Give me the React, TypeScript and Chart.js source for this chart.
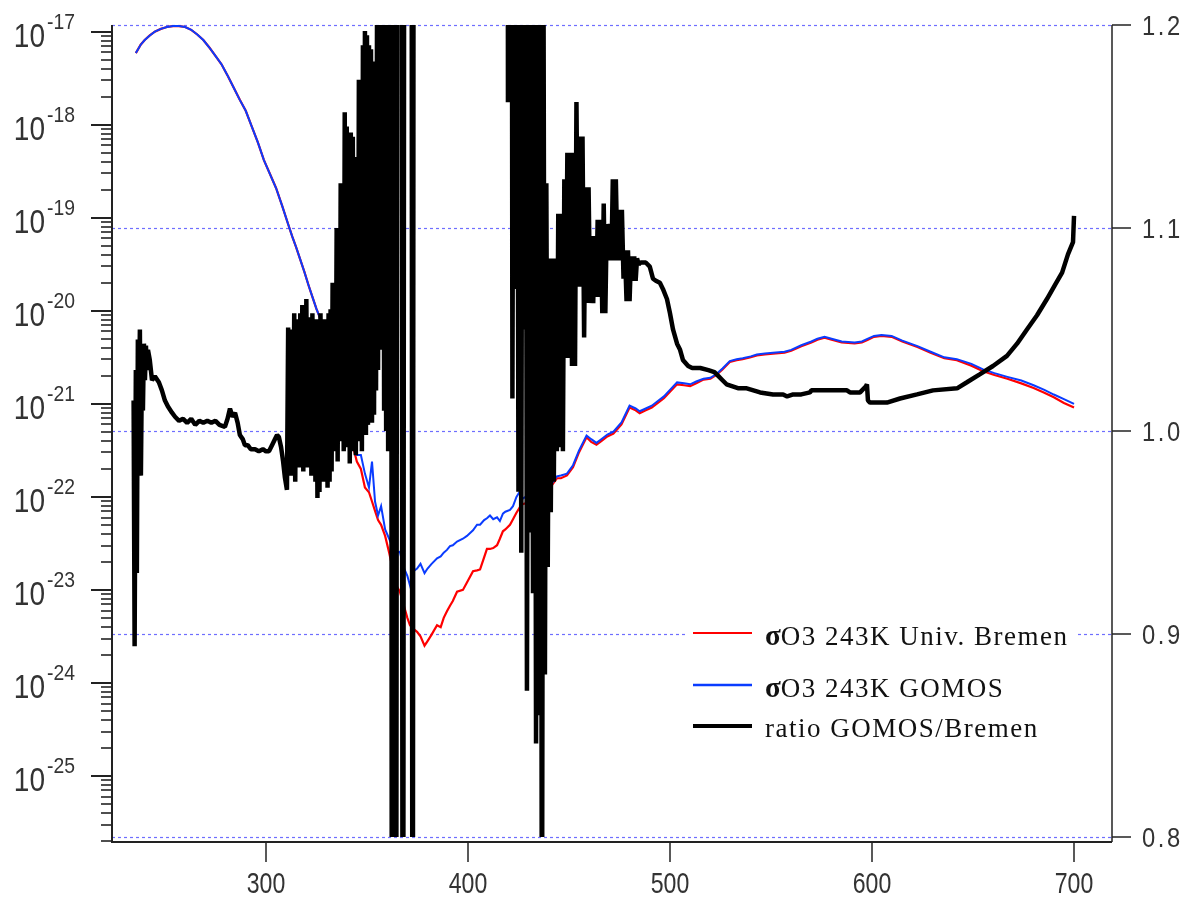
import { useEffect, useRef } from "react";
import { Chart, registerables } from "chart.js";

Chart.register(...registerables);

// Wavelength grid (nm) of the two ozone absorption cross-sections
const sigmaNm = [
  235.6, 238, 240, 242.5, 245, 248, 251, 254, 257, 260,
  263, 266, 269, 272, 275, 278, 281, 284, 287, 290,
  293, 296, 299, 302, 305, 308, 311, 313, 315, 317,
  319, 321, 323, 325, 327, 329, 331, 333, 335, 337,
  339, 341, 343, 345, 347, 349, 351, 352.5, 354, 355.5,
  357, 359, 361, 363, 364.5, 366.3, 368, 370, 371.3, 373,
  374.8, 376.5, 378.5, 380, 382, 384.7, 386.5, 388, 389.6, 391.1,
  392.5, 394.6, 397.5, 399.5, 402.5, 404.5, 406, 408, 409.4, 410.9,
  412.5, 414.4, 415.8, 417.3, 418.5, 420.8, 422.3, 424, 425.7, 427,
  428.5, 430, 432, 435, 438, 441, 444, 446, 449, 452,
  455, 458.7, 461, 463.6, 466, 469, 472, 476, 480, 483,
  485, 488, 491, 494, 497, 500, 503.5, 507, 510, 513,
  516.6, 520, 523, 526, 529.6, 533, 536, 540, 543, 547,
  551, 556.7, 560, 565, 570, 573, 576.5, 580, 585, 591.4,
  595, 598, 601, 604.7, 609.7, 615, 622.5, 629, 635.8, 642,
  649.2, 655, 660.6, 667, 673.9, 680, 685.3, 690, 695, 700,
];

// log10 of the cross-section (cm^2), Univ. Bremen 243 K
const bremenLogSigma = [
  -17.23, -17.14, -17.09, -17.04, -17.0, -16.97, -16.95, -16.94, -16.94, -16.95,
  -16.98, -17.03, -17.09, -17.17, -17.26, -17.35, -17.47, -17.6, -17.73, -17.85,
  -18.02, -18.19, -18.38, -18.53, -18.68, -18.87, -19.07, -19.2, -19.32, -19.45,
  -19.58, -19.72, -19.85, -19.98, -20.09, -20.2, -20.35, -20.5, -20.7, -20.9,
  -21.05, -21.22, -21.45, -21.62, -21.7, -21.9, -21.95, -22.05, -22.15, -22.25,
  -22.3, -22.42, -22.6, -22.8, -22.95, -23.02, -23.15, -23.3, -23.38, -23.42,
  -23.45, -23.5, -23.6, -23.55, -23.48, -23.38, -23.4, -23.3, -23.23, -23.17,
  -23.12, -23.02, -23.0, -22.92, -22.8, -22.79, -22.78, -22.65, -22.56, -22.56,
  -22.55, -22.52, -22.45, -22.37, -22.35, -22.3, -22.24, -22.17, -22.11, -22.08,
  -22.07, -22.04, -22.02, -21.99, -21.94, -21.89, -21.8, -21.8, -21.77, -21.68,
  -21.52, -21.36, -21.41, -21.44, -21.4, -21.35, -21.32, -21.22, -21.04, -21.07,
  -21.1, -21.07, -21.04, -20.99, -20.94, -20.87, -20.79, -20.8, -20.81, -20.78,
  -20.74, -20.73, -20.69, -20.63, -20.55, -20.53, -20.52, -20.5, -20.48, -20.47,
  -20.46, -20.45, -20.43, -20.38, -20.34, -20.31, -20.29, -20.31, -20.34, -20.35,
  -20.34, -20.31, -20.28, -20.27, -20.28, -20.33, -20.39, -20.45, -20.51, -20.53,
  -20.59, -20.65, -20.69, -20.73, -20.78, -20.83, -20.88, -20.93, -20.99, -21.04,
];

// log10 of the cross-section (cm^2), GOMOS 243 K
const gomosLogSigma = [
  -17.23, -17.14, -17.09, -17.04, -17.0, -16.97, -16.95, -16.94, -16.94, -16.95,
  -16.98, -17.03, -17.09, -17.17, -17.26, -17.35, -17.47, -17.6, -17.73, -17.85,
  -18.02, -18.19, -18.38, -18.53, -18.68, -18.87, -19.07, -19.2, -19.32, -19.45,
  -19.58, -19.72, -19.85, -19.98, -20.09, -20.2, -20.25, -20.45, -20.55, -20.75,
  -21.0, -21.1, -21.3, -21.55, -21.55, -21.75, -21.9, -21.62, -22.05, -22.2,
  -22.1, -22.35, -22.45, -22.55, -22.6, -22.59, -22.75, -22.85, -22.95, -22.8,
  -22.77, -22.72, -22.82, -22.77, -22.72, -22.66, -22.64, -22.6, -22.57, -22.53,
  -22.52, -22.48, -22.45, -22.42, -22.36, -22.3, -22.3, -22.25, -22.23, -22.2,
  -22.24, -22.22, -22.26, -22.18, -22.16, -22.14, -22.1, -22.0, -21.94, -22.02,
  -22.0, -22.02, -22.0, -21.97, -21.92, -21.87, -21.78, -21.77, -21.75, -21.66,
  -21.5, -21.34, -21.38, -21.42, -21.38, -21.33, -21.3, -21.2, -21.02, -21.05,
  -21.08, -21.05, -21.02, -20.97, -20.92, -20.85, -20.77, -20.78, -20.79, -20.76,
  -20.73, -20.72, -20.68, -20.62, -20.54, -20.52, -20.51, -20.49, -20.47, -20.46,
  -20.45, -20.44, -20.42, -20.37, -20.33, -20.3, -20.28, -20.3, -20.33, -20.34,
  -20.33, -20.3, -20.27, -20.26, -20.27, -20.32, -20.38, -20.44, -20.5, -20.52,
  -20.57, -20.63, -20.67, -20.71, -20.75, -20.8, -20.85, -20.9, -20.95, -21.0,
];

// Ratio GOMOS / Bremen (right axis)
const ratioNm = [
  234.5, 235.0, 235.6, 236.1, 236.6, 237.1, 237.6, 238.1, 238.6, 239.1,
  239.6, 240.1, 240.6, 241.1, 241.6, 242.5, 243.6, 245, 247, 248.5,
  250, 251.5, 253.5, 255, 257, 259, 261, 263, 265, 267,
  269, 271, 273, 275, 277, 279.7, 281, 282.2, 283.5, 284.7,
  286, 287.1, 288.5, 289.6, 291, 292.5, 294.6, 296.5, 298.5, 300,
  301.5, 303, 304.5, 305.5, 306.4, 307.5, 308.5, 309.4, 310.4,
  311.0, 311.5, 312.0, 312.5, 313.0, 313.5, 314.0, 314.5, 315.0, 315.5,
  316.0, 316.5, 317.0, 317.5, 318.0, 318.5, 319.0, 319.5, 320.0, 320.5,
  321.0, 321.5, 322.0, 322.5, 323.0, 323.5, 324.0, 324.5, 325.0, 325.5,
  326.0, 326.5, 327.0, 327.5, 328.0, 328.5, 329.0, 329.5, 330.0, 330.5,
  331.0, 331.5, 332.0, 332.5, 333.0, 333.5, 334.0, 334.5, 335.0, 335.5,
  336.0, 336.5, 337.0, 337.5, 338.0, 338.5, 339.0, 339.5, 340.0, 340.5,
  341.0, 341.5, 342.0, 342.5, 343.0, 343.5, 344.0, 344.5, 345.0, 345.5,
  346.0, 346.5, 347.0, 347.5, 348.0, 348.5, 349.0, 349.5, 350.0, 350.5,
  351.0, 351.5, 352.0, 352.5, 353.0, 353.5, 354.0, 354.5, 355.0, 355.5,
  356.0, 356.5, 357.0, 357.5, 358.0, 358.5, 359.0, 359.5, 360.0, 360.5,
  361.0, 361.5, 362.0, 362.4, 363.3, 364.3, 365.2, 367.0, 367.8, 368.6,
  372.0, 372.6, 373.2, 380, 395, 410, 419.0,
  419.8, 420.6, 421.5, 422.0, 422.8, 423.5, 424.3, 425.0, 425.7, 426.4,
  427.2, 427.9, 428.6, 429.2, 430.0, 430.7, 431.4, 432.2, 433.0, 433.7,
  434.5, 435.2, 436.0, 436.6, 437.4, 438.1, 438.8, 439.5, 440.3, 441.0,
  441.8, 442.5, 443.2, 444.0, 444.7, 445.5, 446.2, 447.0, 447.7, 448.4,
  449.2, 450.0, 450.7, 451.5, 452.2, 453.0, 453.7, 454.5, 455.2, 456.0,
  456.7, 457.5, 458.2, 459.0, 459.7, 460.5, 461.2, 462.0, 462.7, 463.5,
  464.2, 465.0, 465.7, 466.5, 467.2, 468.0, 468.7, 469.5, 470.2, 471.0,
  471.7, 472.5, 473.2, 474.0, 474.7, 475.5, 476.2, 477.0, 477.7, 478.5,
  479.2, 480.0, 480.7, 481.5, 482.3, 483.0, 483.7, 484.5, 485.5, 488,
  490, 491.6, 493, 495, 496.5, 498.5, 500, 501.5, 503.5, 505,
  506.4, 509, 511, 515, 519, 522, 524, 526, 528, 531,
  534, 538, 544.6, 551, 556, 558, 561, 565, 569.3, 570,
  580, 587.6, 589.1, 594.1, 597, 597.5, 598, 599, 600.5, 607.4,
  613.9, 622.3, 630.2, 642.1, 647, 653.5, 659.9, 666.8, 671.8, 676.7,
  681.7, 686.6, 690.6, 694.1, 697, 699.5, 700,
];

const ratioValue = [
  1.015, 0.894, 1.03, 0.93, 1.045, 1.01, 1.05, 0.978, 1.03, 1.01,
  1.043, 1.025, 1.042, 1.03, 1.04, 1.035, 1.025, 1.027, 1.024, 1.02,
  1.015, 1.012, 1.009, 1.007, 1.005, 1.006, 1.004, 1.006, 1.003, 1.005,
  1.004, 1.005, 1.004, 1.005, 1.003, 1.002, 1.006, 1.011, 1.007, 1.009,
  1.004, 0.998, 0.996, 0.993, 0.993, 0.991, 0.991, 0.99, 0.991, 0.99,
  0.99, 0.993, 0.996, 0.998, 0.997, 0.992, 0.985, 0.977, 0.971,
  1.051, 0.99, 1.045, 0.978, 1.05, 0.985, 1.058, 0.975, 1.04, 0.988,
  1.055, 0.982, 1.058, 0.99, 1.062, 0.98, 1.05, 0.985, 1.065, 0.982,
  1.056, 0.99, 1.052, 0.978, 1.058, 0.985, 1.045, 0.975, 1.055, 0.967,
  1.05, 0.97, 1.058, 0.978, 1.04, 0.975, 1.055, 0.985, 1.05, 0.972,
  1.058, 0.975, 1.06, 0.98, 1.073, 0.99, 1.07, 0.995, 1.1, 0.985,
  1.098, 0.995, 1.122, 1.0, 1.12, 0.99, 1.157, 0.998, 1.15, 0.992,
  1.14, 0.984, 1.147, 0.99, 1.145, 1.0, 1.13, 0.988, 1.135, 0.995,
  1.173, 1.0, 1.17, 0.99, 1.19, 1.005, 1.197, 0.998, 1.195, 1.003,
  1.19, 1.01, 1.188, 1.004, 1.18, 1.008, 1.182, 1.02, 1.21, 1.03,
  1.23, 1.04, 1.25, 1.06, 1.3, 1.01, 1.3, 1.0, 1.3, 0.99,
  1.3, 1.0, 1.3, 0.5, 1.5, 0.5, 1.5, 1.5, 0.5, 1.5,
  1.5, 0.5, 1.5, 2.5, 3.0, 2.6, 2.2,
  1.162, 2.2, 1.5, 1.016, 1.35, 1.07, 1.3, 0.97, 1.3, 0.94,
  1.4, 1.05, 1.3, 0.872, 1.25, 0.95, 1.3, 0.92, 1.25, 0.846,
  1.3, 0.86, 1.25, 0.7, 1.22, 0.88, 1.122, 0.933, 1.085, 0.96,
  1.085, 0.975, 1.085, 0.99, 1.107, 0.992, 1.107, 0.99, 1.124, 1.036,
  1.137, 1.036, 1.137, 1.032, 1.137, 1.032, 1.162, 1.071, 1.145, 1.071,
  1.145, 1.046, 1.12, 1.063, 1.12, 1.063, 1.096, 1.063, 1.096, 1.066,
  1.104, 1.066, 1.104, 1.058, 1.112, 1.058, 1.102, 1.084, 1.102, 1.084,
  1.124, 1.084, 1.124, 1.084, 1.109, 1.084, 1.109, 1.075, 1.089, 1.064,
  1.089, 1.064, 1.086, 1.074, 1.086, 1.074, 1.085, 1.082, 1.083, 1.083,
  1.081, 1.075, 1.074, 1.073, 1.07, 1.065, 1.058, 1.05, 1.043, 1.04,
  1.035, 1.032, 1.031, 1.031, 1.03, 1.029, 1.027, 1.025, 1.023, 1.022,
  1.021, 1.021, 1.019, 1.018, 1.018, 1.017, 1.018, 1.018, 1.019, 1.02,
  1.02, 1.02, 1.019, 1.019, 1.022, 1.023, 1.015, 1.014, 1.014, 1.014,
  1.016, 1.018, 1.02, 1.021, 1.024, 1.028, 1.032, 1.037, 1.043, 1.05,
  1.057, 1.065, 1.072, 1.078, 1.087, 1.093, 1.106,
];

// Axis ticks and labels
const xTickValues = [300, 400, 500, 600, 700];
const ratioTickValues = [0.8, 0.9, 1.0, 1.1, 1.2];
const ratioTickLabels = ["0.8", "0.9", "1.0", "1.1", "1.2"];
const sigmaDecades = [-25, -24, -23, -22, -21, -20, -19, -18, -17];

const legendLabels = ["O3 243K Univ. Bremen", "O3 243K GOMOS", "ratio GOMOS/Bremen"];
const legendHasSigma = [true, true, false];
const seriesColors = ["#ff0000", "#0a3cff", "#000000"];

const X_MIN = 223.8;
const X_MAX = 718.8;
const SIGMA_MIN = 2e-26;
const SIGMA_MAX = 1.18e-17;
const RATIO_MIN = 0.798;
const RATIO_MAX = 1.2;

const SANS = "'Liberation Sans', Arial, sans-serif";
const SERIF = "'Liberation Serif', 'Times New Roman', serif";

function drawText(
  ctx: CanvasRenderingContext2D,
  text: string,
  x: number,
  y: number,
  font: string,
  align: "left" | "right" | "center",
  scaleX = 1,
  spacing = 0,
) {
  ctx.save();
  ctx.font = font;
  (ctx as any).letterSpacing = `${spacing}px`;
  ctx.textAlign = "left";
  ctx.textBaseline = "alphabetic";
  const w = ctx.measureText(text).width * scaleX;
  let left = x;
  if (align === "right") left = x - w;
  else if (align === "center") left = x - w / 2;
  ctx.translate(left, y);
  ctx.scale(scaleX, 1);
  ctx.fillText(text, 0, 0);
  ctx.restore();
  return w;
}

const spectrumFrame = {
  id: "spectrumFrame",
  beforeDatasetsDraw(chart: any) {
    const { ctx, chartArea: a } = chart;
    const yr = chart.scales.yRatio;
    ctx.save();
    ctx.strokeStyle = "#6e6eff";
    ctx.lineWidth = 1.2;
    ctx.setLineDash([3, 3]);
    ratioTickValues.forEach((v) => {
      const y = Math.round(yr.getPixelForValue(v)) + 0.5;
      ctx.beginPath();
      ctx.moveTo(a.left, y);
      ctx.lineTo(a.right, y);
      ctx.stroke();
    });
    ctx.restore();
  },
  afterDatasetsDraw(chart: any) {
    const { ctx } = chart;
    ctx.save();
    ctx.fillStyle = "#ffffff";
    ctx.fillRect(688, 613, 388, 137);
    const rows = [
      { line: 633, base: 645, width: 2 },
      { line: 685, base: 697, width: 2.5 },
      { line: 726, base: 737, width: 4 },
    ];
    rows.forEach((r, i) => {
      ctx.strokeStyle = seriesColors[i];
      ctx.lineWidth = r.width;
      ctx.beginPath();
      ctx.moveTo(693, r.line);
      ctx.lineTo(752, r.line);
      ctx.stroke();
      ctx.fillStyle = "#111";
      let x = 765;
      if (legendHasSigma[i]) {
        x += drawText(ctx, "σ", x, r.base, `bold 29px ${SERIF}`, "left", 1, 0);
      }
      drawText(ctx, legendLabels[i], x, r.base, `27px ${SERIF}`, "left", 1, 1.5);
    });
    ctx.restore();
  },
  afterDraw(chart: any) {
    const { ctx, chartArea: a, scales } = chart;
    const xs = scales.x;
    const ys = scales.ySigma;
    const yr = scales.yRatio;
    ctx.save();
    ctx.strokeStyle = "#222";
    ctx.fillStyle = "#333";

    // frame lines
    ctx.lineWidth = 2;
    ctx.beginPath();
    ctx.moveTo(a.left, a.top);
    ctx.lineTo(a.left, a.bottom + 1);
    ctx.lineTo(a.right, a.bottom + 1);
    ctx.stroke();
    ctx.lineWidth = 1.5;
    ctx.beginPath();
    ctx.moveTo(a.right, a.top);
    ctx.lineTo(a.right, a.bottom + 1);
    ctx.stroke();

    // logarithmic cross-section axis (left)
    for (let e = -26; e <= -18; e++) {
      for (let m = 2; m <= 9; m++) {
        const v = m * Math.pow(10, e);
        if (v < SIGMA_MIN || v > SIGMA_MAX) continue;
        const y = Math.round(ys.getPixelForValue(v));
        ctx.lineWidth = 1.6;
        ctx.beginPath();
        ctx.moveTo(a.left - 11, y);
        ctx.lineTo(a.left, y);
        ctx.stroke();
      }
    }
    sigmaDecades.forEach((d) => {
      const y = Math.round(ys.getPixelForValue(Math.pow(10, d)));
      ctx.lineWidth = 2;
      ctx.beginPath();
      ctx.moveTo(a.left - 21, y);
      ctx.lineTo(a.left, y);
      ctx.stroke();
      drawText(ctx, "10", 45, y + 15, `33px ${SANS}`, "right", 0.85);
      drawText(ctx, `-${-d}`, 47, y - 3, `22px ${SANS}`, "left", 0.88);
    });

    // ratio axis (right)
    ratioTickValues.forEach((v, i) => {
      const y = Math.round(yr.getPixelForValue(v));
      ctx.lineWidth = 1.5;
      ctx.beginPath();
      ctx.moveTo(a.right, y);
      ctx.lineTo(a.right + 19, y);
      ctx.stroke();
      drawText(ctx, ratioTickLabels[i], a.right + 30, y + 10, `28px ${SANS}`, "left", 0.85, 3);
    });

    // wavelength axis (bottom)
    xTickValues.forEach((v) => {
      const x = Math.round(xs.getPixelForValue(v));
      ctx.lineWidth = 1.5;
      ctx.beginPath();
      ctx.moveTo(x, a.bottom + 1);
      ctx.lineTo(x, a.bottom + 21);
      ctx.stroke();
      drawText(ctx, String(v), x, 893, `30px ${SANS}`, "center", 0.77);
    });
    ctx.restore();
  },
};

export default function App() {
  const canvasRef = useRef<HTMLCanvasElement | null>(null);

  useEffect(() => {
    const canvas = canvasRef.current;
    if (!canvas) return;

    const bremen = sigmaNm.map((x, i) => ({ x, y: Math.pow(10, bremenLogSigma[i]) }));
    const gomos = sigmaNm.map((x, i) => ({ x, y: Math.pow(10, gomosLogSigma[i]) }));
    const ratio = ratioNm.map((x, i) => ({ x, y: ratioValue[i] }));

    const chart = new Chart(canvas, {
      type: "line",
      data: {
        datasets: [
          {
            label: "ratio GOMOS/Bremen",
            data: ratio,
            yAxisID: "yRatio",
            borderColor: seriesColors[2],
            borderWidth: 4.5,
            borderJoinStyle: "bevel",
            pointRadius: 0,
            order: 0,
            clip: { left: 0, right: 0, top: 0, bottom: -4 },
          },
          {
            label: "σO3 243K GOMOS",
            data: gomos,
            yAxisID: "ySigma",
            borderColor: seriesColors[1],
            borderWidth: 2,
            pointRadius: 0,
            order: 1,
            clip: 0,
          },
          {
            label: "σO3 243K Univ. Bremen",
            data: bremen,
            yAxisID: "ySigma",
            borderColor: seriesColors[0],
            borderWidth: 2.2,
            pointRadius: 0,
            order: 2,
            clip: 0,
          },
        ],
      } as any,
      options: {
        responsive: false,
        animation: false,
        events: [],
        layout: { padding: { top: 25, left: 0, right: 0, bottom: 0 } },
        elements: { line: { tension: 0 }, point: { radius: 0 } },
        plugins: { legend: { display: false }, tooltip: { enabled: false } },
        scales: {
          x: {
            type: "linear",
            min: X_MIN,
            max: X_MAX,
            ticks: { display: false },
            grid: { display: false },
            border: { display: false },
            afterFit: (s: any) => {
              s.height = 65;
            },
          },
          ySigma: {
            type: "logarithmic",
            position: "left",
            min: SIGMA_MIN,
            max: SIGMA_MAX,
            ticks: { display: false },
            grid: { display: false },
            border: { display: false },
            afterFit: (s: any) => {
              s.width = 112;
            },
          },
          yRatio: {
            type: "linear",
            position: "right",
            min: RATIO_MIN,
            max: RATIO_MAX,
            ticks: { display: false },
            grid: { display: false },
            border: { display: false },
            afterFit: (s: any) => {
              s.width = 79;
            },
          },
        },
      } as any,
      plugins: [spectrumFrame],
    });

    return () => chart.destroy();
  }, []);

  return (
    <div style={{ position: "absolute", left: 0, top: 0, width: 1191, height: 906, background: "#fff" }}>
      <canvas ref={canvasRef} width={1191} height={906} style={{ display: "block" }} />
    </div>
  );
}
